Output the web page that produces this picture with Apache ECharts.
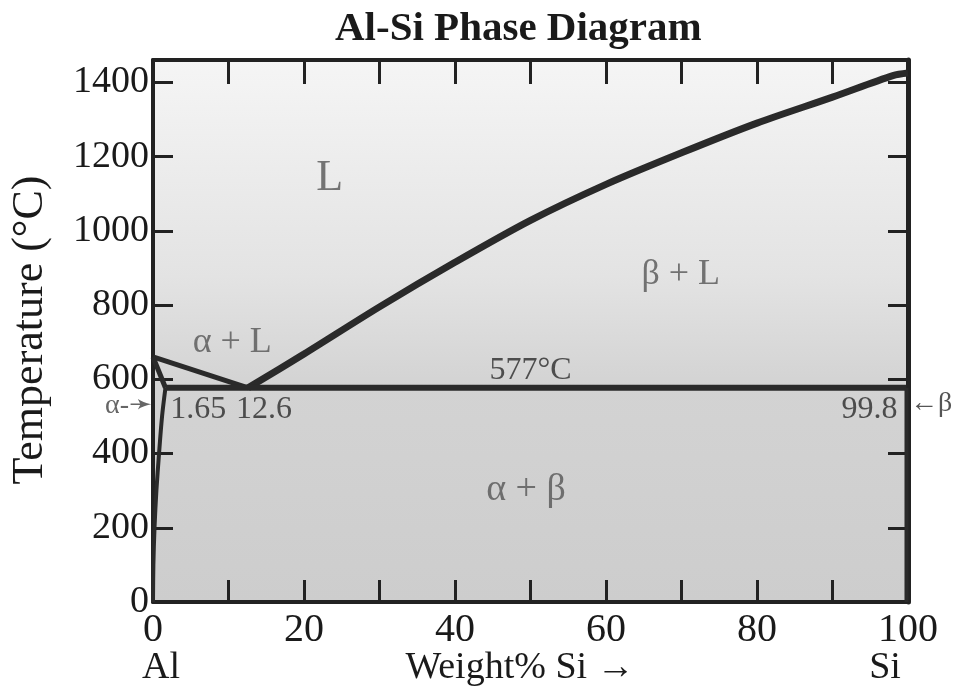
<!DOCTYPE html>
<html>
<head>
<meta charset="utf-8">
<script src="https://cdn.jsdelivr.net/npm/echarts@6/dist/echarts.min.js"></script>
<style>
html,body{margin:0;padding:0;background:#fff;}
#chart{width:964px;height:696px;}
</style>
</head>
<body>
<div id="chart"></div>
<script>
// ---- data (wt% Si, temperature °C) ----
const liquidusAl = [[0, 660], [12.6, 577]];
const liquidusSi = [[12.6, 577], [20, 668], [30, 795], [40, 915], [50, 1028], [60, 1125], [70, 1210], [80, 1290], [90, 1360], [98, 1418], [100, 1425]];
const solidusAl = [[0, 660], [1.65, 577]];
const solvusAl = [[1.65, 577], [1.2, 500], [0.8, 400], [0.45, 300], [0.2, 200], [0.05, 100], [0, 0]];
const eutectic = [[1.65, 577], [99.8, 577]];
const solvusSi = [[99.8, 577], [99.8, 0]];
const xTicks = [0, 20, 40, 60, 80, 100];
const yTicks = [0, 200, 400, 600, 800, 1000, 1200, 1400];
const regionLabels = [
  {name: 'L', value: [23.4, 1140], size: 44},
  {name: 'β + L', value: [69.9, 882], size: 36},
  {name: 'α + L', value: [10.5, 698], size: 36},
  {name: 'α + β', value: [49.4, 302], size: 38}
];
const pointLabels = [
  {name: '577°C', value: [50, 622]},
  {name: '1.65', value: [6.0, 518]},
  {name: '12.6', value: [14.7, 518]},
  {name: '99.8', value: [94.9, 518]}
];

const FONT = 'Liberation Serif';
const chart = echarts.init(document.getElementById('chart'));

function lineSeries(data, width, smooth) {
  return {
    type: 'line', data: data, showSymbol: false, symbol: 'none', smooth: smooth || false,
    lineStyle: {color: '#2a2a2a', width: width}, silent: true, z: 3
  };
}

chart.setOption({
  animation: false,
  backgroundColor: '#ffffff',
  title: {
    text: 'Al-Si Phase Diagram', left: 330, top: 4,
    textStyle: {fontFamily: FONT, fontWeight: 'bold', fontSize: 41, color: '#1a1a1a'}
  },
  grid: {
    left: 153, right: 56, top: 60, bottom: 94, show: true, borderWidth: 0,
    backgroundColor: {
      type: 'linear', x: 0, y: 0, x2: 0, y2: 1,
      colorStops: [
        {offset: 0, color: '#f5f5f5'},
        {offset: 0.4, color: '#e3e3e3'},
        {offset: 0.6, color: '#d3d3d3'},
        {offset: 1, color: '#cdcdcd'}
      ]
    }
  },
  xAxis: [{
    type: 'value', min: 0, max: 100, interval: 10, position: 'bottom',
    axisLine: {show: true, onZero: false, lineStyle: {color: '#222', width: 4}},
    axisTick: {show: true, inside: true, length: 22, lineStyle: {color: '#222', width: 3}},
    splitLine: {show: false},
    axisLabel: {
      margin: 8, fontFamily: FONT, fontSize: 40, color: '#1a1a1a',
      formatter: v => xTicks.indexOf(v) >= 0 ? String(v) : ''
    }
  }, {
    type: 'value', min: 0, max: 100, interval: 10, position: 'top',
    axisLine: {show: true, onZero: false, lineStyle: {color: '#222', width: 4}},
    axisTick: {show: true, inside: true, length: 24, lineStyle: {color: '#222', width: 3}},
    splitLine: {show: false}, axisLabel: {show: false}
  }],
  yAxis: [{
    type: 'value', min: 0, max: 1460, interval: 200, position: 'left',
    axisLine: {show: true, onZero: false, lineStyle: {color: '#222', width: 4}},
    axisTick: {show: true, inside: true, length: 20, lineStyle: {color: '#222', width: 3}},
    splitLine: {show: false},
    axisLabel: {
      margin: 4, fontFamily: FONT, fontSize: 38, color: '#1a1a1a', showMaxLabel: false,
      formatter: v => yTicks.indexOf(v) >= 0 ? String(v) : ''
    }
  }, {
    type: 'value', min: 0, max: 1460, interval: 200, position: 'right',
    axisLine: {show: true, onZero: false, lineStyle: {color: '#222', width: 5}},
    axisTick: {show: true, inside: true, length: 20, lineStyle: {color: '#222', width: 3}},
    splitLine: {show: false}, axisLabel: {show: false}
  }],
  graphic: [
    {type: 'text', x: 30, y: 330, rotation: Math.PI / 2,
      style: {text: 'Temperature (°C)', fontFamily: FONT, fontSize: 44, fill: '#1a1a1a', align: 'center', verticalAlign: 'middle'}},
    {type: 'text', x: 161, y: 668,
      style: {text: 'Al', fontFamily: FONT, fontSize: 38, fill: '#1a1a1a', align: 'center', verticalAlign: 'middle'}},
    {type: 'text', x: 520, y: 668,
      style: {text: 'Weight% Si →', fontFamily: FONT, fontSize: 38, fill: '#1a1a1a', align: 'center', verticalAlign: 'middle'}},
    {type: 'text', x: 885, y: 668,
      style: {text: 'Si', fontFamily: FONT, fontSize: 38, fill: '#1a1a1a', align: 'center', verticalAlign: 'middle'}},
    {type: 'text', x: 152, y: 406,
      style: {text: 'α-➛', fontFamily: FONT, fontSize: 28, fill: '#666', align: 'right', verticalAlign: 'middle'}},
    {type: 'text', x: 910, y: 404,
      style: {text: '←β', fontFamily: FONT, fontSize: 28, fill: '#555', align: 'left', verticalAlign: 'middle'}}
  ],
  series: [
    lineSeries(liquidusAl, 5),
    lineSeries(liquidusSi, 7, 0.3),
    lineSeries(solidusAl, 5),
    lineSeries(solvusAl, 4, 0.3),
    lineSeries(eutectic, 6),
    lineSeries(solvusSi, 4),
    {
      type: 'scatter', symbolSize: 0, silent: true, z: 4,
      data: regionLabels.map(d => ({name: d.name, value: d.value,
        label: {show: true, position: 'inside', formatter: '{b}', fontFamily: FONT, fontSize: d.size, color: '#555'}}))
    },
    {
      type: 'scatter', symbolSize: 0, silent: true, z: 4,
      data: pointLabels.map(d => ({name: d.name, value: d.value,
        label: {show: true, position: 'inside', formatter: '{b}', fontFamily: FONT, fontSize: 32, color: '#2a2a2a'}}))
    }
  ]
});
</script>
</body>
</html>
